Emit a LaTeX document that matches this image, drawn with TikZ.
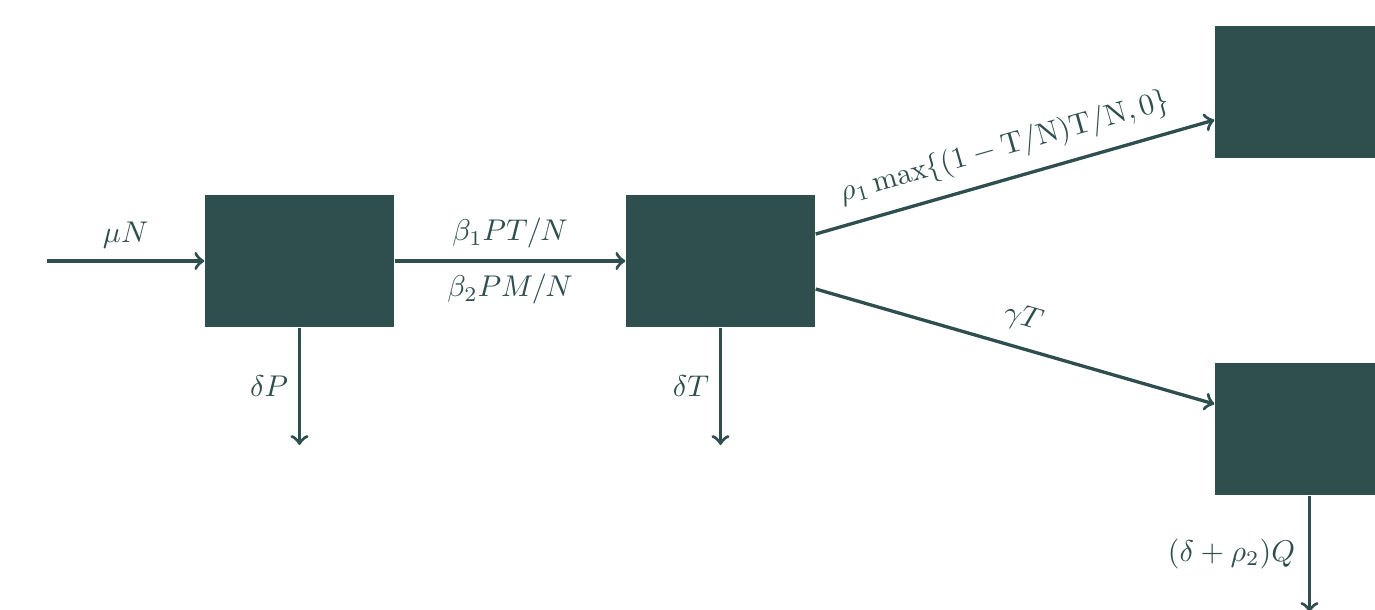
\documentclass[tikz,border=0pt]{standalone}
\usetikzlibrary{calc}
\definecolor{dsg}{RGB}{47,79,79}
\begin{document}
\begin{tikzpicture}[x=0.3pt,y=-0.3pt,
  comp/.style={rectangle,fill=dsg,draw=none,minimum width=56.7pt,minimum height=39.6pt,inner sep=0pt},
  flow/.style={->,draw=dsg,line width=1pt},
  lab/.style={text=dsg,scale=0.9,transform shape}]
\useasboundingbox (0,0) rectangle (1375,609);
\node[comp] (P) at (299.5,261) {};
\node[comp] (T) at (720.5,261) {};
\node[comp] (M) at (1309.5,92) {};
\node[comp] (Q) at (1309.5,429) {};
\coordinate (in) at (47,261);
\coordinate (dP) at (299.5,445);
\coordinate (dT) at (720.5,445);
\coordinate (dQ) at (1309.5,612);
\draw[flow] (in) -- node[lab,above=0.5pt] {$\mu N$} (P.west);
\draw[flow] (P.east) -- node[lab,above=0.5pt] {$\beta_1PT/N$} node[lab,below=0.5pt] {$\beta_2PM/N$} (T.west);
\draw[flow] (P.south) -- node[lab,left=0pt] {$\delta P$} (dP);
\draw[flow] (T.south) -- node[lab,left=0pt] {$\delta T$} (dT);
\draw[flow] ($(T.east)+(0,-27)$) -- node[lab,above=1.5pt,sloped,pos=0.495] {$\rho_1\max\{(1-\mathrm{T}/\mathrm{N})\mathrm{T}/\mathrm{N},0\}$} ($(M.west)+(0,28)$);
\draw[flow] ($(T.east)+(0,28)$) -- node[lab,above=1.5pt,sloped,pos=0.5] {$\gamma T$} ($(Q.west)+(0,-25)$);
\draw[flow] (Q.south) -- node[lab,left=1pt,pos=0.5] {$(\delta+\rho_2)Q$} (dQ);
\end{tikzpicture}
\end{document}
